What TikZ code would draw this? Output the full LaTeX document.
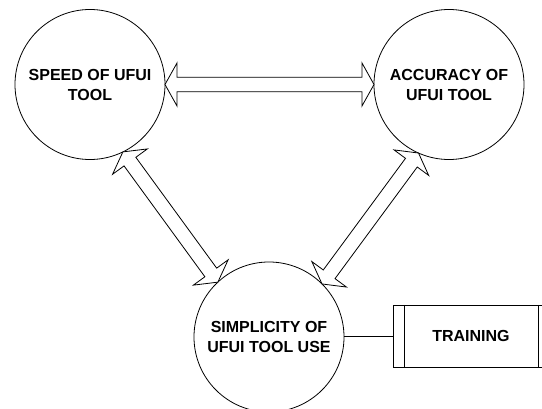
\documentclass[tikz,border=0pt]{standalone}
\usepackage{fontspec}
\setmainfont{Liberation Sans}
\usetikzlibrary{calc}
\tikzset{
  bubble/.style={circle, draw, line width=0.8pt, minimum size=150pt, inner sep=0pt, outer sep=0pt,
    align=center, font=\bfseries\fontsize{16}{20}\selectfont},
  procbox/.style={rectangle, draw, line width=0.8pt, minimum width=156pt, minimum height=62pt,
    inner sep=0pt, outer sep=0pt, font=\bfseries\fontsize{16}{20}\selectfont},
  blockarrow/.style={draw, line width=0.8pt, fill=white, line join=miter},
  link/.style={draw, line width=0.8pt},
}
\newcommand{\dblblock}[2]{%
  \draw[blockarrow] let \p1=(#1), \p2=(#2),
    \n1={atan2(\y2-\y1,\x2-\x1)}, \n2={veclen(\x2-\x1,\y2-\y1)} in
    [shift={(\p1)}, rotate=\n1]
    (0,0) -- (12,21.5) -- (12,7.3) -- ({\n2-12},7.3) -- ({\n2-12},21.5) -- (\n2,0)
    -- ({\n2-12},-21.5) -- ({\n2-12},-7.3) -- (12,-7.3) -- (12,-21.5) -- cycle;}
\begin{document}
\begin{tikzpicture}[x=1pt,y=-1pt]
\useasboundingbox (0,0) rectangle (542,409);
\clip (0,0) rectangle (542,409);
\node[bubble] (L) at (90,84.5) {SPEED OF UFUI\\TOOL};
\node[bubble] (R) at (449,84.5) {ACCURACY OF\\UFUI TOOL};
\node[bubble] (B) at (269,337) {SIMPLICITY OF\\UFUI TOOL USE};
\node[procbox] (T) at (471,336) {TRAINING};
\draw[link] ([xshift=11pt]T.north west) -- ([xshift=11pt]T.south west);
\draw[link] ([xshift=-11pt]T.north east) -- ([xshift=-11pt]T.south east);
\draw[link] (B.east |- T.west) -- (T.west);
\coordinate (a1) at (L.-64);
\coordinate (a2) at (B.133);
\coordinate (b1) at (R.-114);
\coordinate (b2) at (B.45.5);
\dblblock{L.east}{R.west}
\dblblock{a1}{a2}
\dblblock{b1}{b2}
\end{tikzpicture}
\end{document}
